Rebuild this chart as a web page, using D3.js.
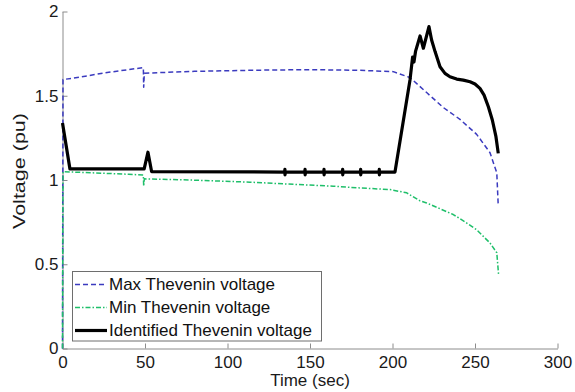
<!DOCTYPE html>
<html>
<head>
<meta charset="utf-8">
<script src="https://cdn.jsdelivr.net/npm/d3@7"></script>
<style>
  body { margin: 0; background: #fff; }
  svg { display: block; font-family: "Liberation Sans", Arial, sans-serif; }
</style>
</head>
<body>
<script>
var width = 575;
var height = 392;

// [time (sec), voltage (pu)]
var maxSeries = [
  [0, 0], [0.3, 1.596], [10, 1.61], [25, 1.635], [40, 1.655], [49, 1.667],
  [49.2, 1.55], [49.6, 1.634], [80, 1.645], [120, 1.652], [150, 1.655],
  [180, 1.651], [200.5, 1.643], [210.6, 1.608], [220.7, 1.519], [230.8, 1.43],
  [240.9, 1.36], [251, 1.271], [259.1, 1.162], [263.2, 1.043], [264.1, 0.844]
];

var minSeries = [
  [0, 0], [0.3, 1.049], [20, 1.042], [40, 1.034], [49, 1.029],
  [49.2, 0.963], [49.6, 1.007], [80, 0.999], [113.6, 0.987], [164.1, 0.963],
  [180.3, 0.953], [198.5, 0.943], [208.6, 0.924], [216.7, 0.876], [220.7, 0.864],
  [236.8, 0.795], [240.9, 0.771], [251, 0.705], [259.1, 0.626], [263.2, 0.568],
  [264.3, 0.437]
];

var identSeries = [
  [0, 1.338], [4.5, 1.066], [30, 1.066], [49.5, 1.066], [51.8, 1.165],
  [54, 1.05], [134.6, 1.047],
  [134.8, 1.063], [134.85, 1.031], [135.1, 1.047],
  [146.8, 1.047], [147, 1.063], [147.05, 1.031], [147.3, 1.047],
  [158.3, 1.047], [158.5, 1.063], [158.55, 1.031], [158.8, 1.047],
  [169.6, 1.047], [169.8, 1.063], [169.85, 1.031], [170.1, 1.047],
  [180.5, 1.047], [180.7, 1.063], [180.75, 1.031], [181, 1.047],
  [191.8, 1.047], [192, 1.063], [192.05, 1.031], [192.3, 1.047],
  [201.5, 1.047], [210.6, 1.594], [212.2, 1.73], [213, 1.7], [214, 1.765],
  [216.7, 1.855], [218.7, 1.782], [222.1, 1.91], [223.7, 1.831], [225.8, 1.762],
  [228.8, 1.672], [231.8, 1.633], [234.8, 1.613], [238.9, 1.599], [242.9, 1.593],
  [247, 1.583], [250, 1.57], [253, 1.544], [255.5, 1.504], [258.1, 1.435],
  [260.5, 1.356], [262.7, 1.257], [264.1, 1.158]
];

var xTicks = [0, 50, 100, 150, 200, 250, 300];
var yTicks = [0, 0.5, 1, 1.5, 2];
var legendLabels = ["Max Thevenin voltage", "Min Thevenin voltage", "Identified Thevenin voltage"];

var svg = d3.select("body")
  .append("svg")
  .attr("width", width)
  .attr("height", height);

var xScale = d3.scaleLinear()
  .domain([0, 300])
  .range([62.5, 557.5]);

var yScale = d3.scaleLinear()
  .domain([0, 2])
  .range([348.5, 11.5]);

var axisColor = "#8c8c8c";

var xAxis = svg.append("g")
  .attr("transform", "translate(0," + yScale(0) + ")")
  .call(d3.axisBottom(xScale).tickValues(xTicks).tickSizeInner(-5).tickSizeOuter(0).tickPadding(7)
    .tickFormat(d3.format("d")));

var yAxis = svg.append("g")
  .attr("transform", "translate(" + xScale(0) + ",0)")
  .call(d3.axisLeft(yScale).tickValues(yTicks).tickSizeInner(-5).tickSizeOuter(0).tickPadding(4)
    .tickFormat(function(d) { return String(d); }));

svg.selectAll(".domain").attr("stroke", axisColor);
svg.selectAll(".tick line").attr("stroke", axisColor);
svg.selectAll(".tick text")
  .attr("fill", "#1a1a1a")
  .style("font-size", "17px")
  .style("font-family", "'Liberation Sans', Arial, sans-serif");

// axis titles
svg.append("text")
  .attr("x", xScale(150))
  .attr("y", 386)
  .attr("text-anchor", "middle")
  .attr("fill", "#1a1a1a")
  .style("font-size", "17px")
  .text("Time (sec)");

svg.append("text")
  .attr("transform", "translate(25,171) rotate(-90)")
  .attr("text-anchor", "middle")
  .attr("fill", "#1a1a1a")
  .attr("textLength", 116)
  .attr("lengthAdjust", "spacingAndGlyphs")
  .style("font-size", "17px")
  .text("Voltage (pu)");

var line = d3.line()
  .x(function(d) { return xScale(d[0]); })
  .y(function(d) { return yScale(d[1]); });

var styles = [
  {color: "#3b3bbf", width: 1.5, dash: "5,3"},
  {color: "#1fbf6a", width: 1.5, dash: "5,2,1.5,2"},
  {color: "#000000", width: 3.2, dash: null}
];

var seriesList = [maxSeries, minSeries, identSeries];

seriesList.forEach(function(s, i) {
  svg.append("path")
    .datum(s)
    .attr("fill", "none")
    .attr("stroke", styles[i].color)
    .attr("stroke-width", styles[i].width)
    .attr("stroke-dasharray", styles[i].dash)
    .attr("stroke-linejoin", "round")
    .attr("d", line);
});

// legend
var legend = svg.append("g");
legend.append("rect")
  .attr("x", 72.5)
  .attr("y", 271.5)
  .attr("width", 249)
  .attr("height", 69.5)
  .attr("fill", "#fff")
  .attr("stroke", "#6e6e6e")
  .attr("stroke-width", 1);

legendLabels.forEach(function(label, i) {
  var cy = 284.5 + i * 23;
  legend.append("line")
    .attr("x1", 75)
    .attr("x2", 107)
    .attr("y1", cy)
    .attr("y2", cy)
    .attr("stroke", styles[i].color)
    .attr("stroke-width", styles[i].width)
    .attr("stroke-dasharray", styles[i].dash);
  legend.append("text")
    .attr("x", 109)
    .attr("y", cy)
    .attr("dy", "0.35em")
    .attr("fill", "#111")
    .style("font-size", "17px")
    .text(label);
});
</script>
</body>
</html>
